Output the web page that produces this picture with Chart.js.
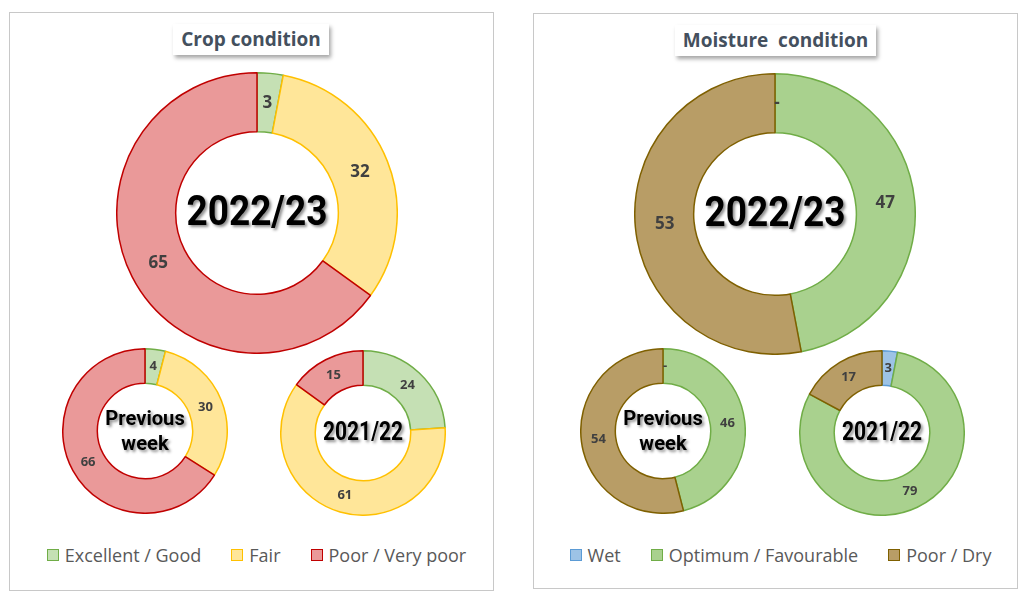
<!DOCTYPE html>
<html>
<head>
<meta charset="utf-8">
<script src="https://cdn.jsdelivr.net/npm/chart.js@4.4.1/dist/chart.umd.min.js"></script>
<style>
  body { margin: 0; background: #fff; width: 1024px; height: 599px; position: relative; overflow: hidden; font-family: "Open Sans", sans-serif; }
  .panel { position: absolute; border: 1px solid #c8c8c8; box-sizing: border-box; }
  .title { position: absolute; background: #fff; box-shadow: 2px 3px 4px rgba(0,0,0,0.35); font-weight: bold; font-size: 19px; color: #44505e; text-align: center; line-height: 31px; height: 31px; white-space: pre; }
  canvas { position: absolute; }
  .legend { position: absolute; display: flex; justify-content: center; gap: 30px; font-size: 18px; color: #595959; }
  .legend span.item { display: flex; align-items: center; }
  .legend i { display: inline-block; width: 10px; height: 10px; border: 1.5px solid; margin-right: 6px; }
</style>
</head>
<body>
<div class="panel" style="left:9px;top:12px;width:485px;height:579px"></div>
<div class="panel" style="left:533px;top:13px;width:485px;height:576px"></div>
<div class="title" style="left:173px;top:24px;width:156px">Crop condition</div>
<div class="title" style="left:675px;top:25px;width:201px">Moisture  condition</div>

<canvas id="c1" width="282" height="282" style="left:116px;top:72px"></canvas>
<canvas id="c2" width="166" height="166" style="left:62px;top:348px"></canvas>
<canvas id="c3" width="166" height="166" style="left:280px;top:350px"></canvas>
<canvas id="m1" width="282" height="282" style="left:634px;top:73px"></canvas>
<canvas id="m2" width="166" height="166" style="left:580px;top:348px"></canvas>
<canvas id="m3" width="166" height="166" style="left:799px;top:350px"></canvas>

<div class="legend" id="legCrop" style="left:19px;top:543px;width:475px"></div>
<div class="legend" id="legMoist" style="left:543px;top:543px;width:475px"></div>

<script>
// crop condition (%)
const cropLabels = ['Excellent / Good', 'Fair', 'Poor / Very poor'];
const crop2022 = [3, 32, 65];
const cropPrevWeek = [4, 30, 66];
const crop2021 = [24, 61, 15];

// moisture condition (%)
const moistLabels = ['Wet', 'Optimum / Favourable', 'Poor / Dry'];
const moist2022 = [0, 47, 53];
const moistPrevWeek = [0, 46, 54];
const moist2021 = [3, 79, 17];

const cropFill = ['#c5e0b4', '#ffe699', '#ea9999'];
const cropLine = ['#70ad47', '#ffc000', '#c00000'];
const moistFill = ['#9dc3e6', '#a9d18e', '#b89d66'];
const moistLine = ['#5b9bd5', '#70ad47', '#7f6000'];

// values written on the ring
const ringLabels = {
  id: 'ringLabels',
  afterDatasetsDraw(chart) {
    const ctx = chart.ctx;
    const meta = chart.getDatasetMeta(0);
    const vals = chart.data.datasets[0].data;
    const size = chart.width > 200 ? 17 : 13;
    ctx.save();
    ctx.font = 'bold ' + size + 'px "Open Sans"';
    ctx.fillStyle = '#404040';
    ctx.textAlign = 'center';
    ctx.textBaseline = 'middle';
    meta.data.forEach((arc, i) => {
      const p = arc.getCenterPoint();
      let txt = vals[i] === 0 ? '-' : String(vals[i]);
      ctx.fillText(txt, vals[i] === 0 ? p.x + 2 : p.x, p.y);
    });
    ctx.restore();
  }
};

// big text in the hole
function centerText(lines, size, sx, lh) {
  return {
    id: 'centerText',
    afterDraw(chart) {
      const ctx = chart.ctx;
      const a = chart.chartArea;
      const cx = (a.left + a.right) / 2, cy = (a.top + a.bottom) / 2;
      ctx.save();
      ctx.translate(cx, cy);
      ctx.scale(sx, 1);
      ctx.font = 'bold ' + size + 'px Roboto';
      ctx.fillStyle = '#000';
      ctx.textAlign = 'center';
      ctx.textBaseline = 'middle';
      ctx.shadowColor = 'rgba(0,0,0,0.45)';
      ctx.shadowOffsetX = 2;
      ctx.shadowOffsetY = 2;
      ctx.shadowBlur = 3;
      const y0 = -(lines.length - 1) * lh / 2;
      lines.forEach((l, i) => ctx.fillText(l, 0, y0 + i * lh + 1));
      ctx.restore();
    }
  };
}

function donut(id, labels, values, fill, line, text) {
  new Chart(document.getElementById(id), {
    type: 'doughnut',
    data: {
      labels: labels,
      datasets: [{ data: values, backgroundColor: fill, borderColor: line, borderWidth: 1.5 }]
    },
    options: {
      responsive: false,
      animation: false,
      cutout: '58%',
      plugins: { legend: { display: false }, tooltip: { enabled: false } }
    },
    plugins: [ringLabels, text]
  });
}

donut('c1', cropLabels, crop2022, cropFill, cropLine, centerText(['2022/23'], 43, 0.86, 0));
donut('c2', cropLabels, cropPrevWeek, cropFill, cropLine, centerText(['Previous', 'week'], 21, 0.96, 25));
donut('c3', cropLabels, crop2021, cropFill, cropLine, centerText(['2021/22'], 25, 0.84, 0));
donut('m1', moistLabels, moist2022, moistFill, moistLine, centerText(['2022/23'], 43, 0.86, 0));
donut('m2', moistLabels, moistPrevWeek, moistFill, moistLine, centerText(['Previous', 'week'], 21, 0.96, 25));
donut('m3', moistLabels, moist2021, moistFill, moistLine, centerText(['2021/22'], 25, 0.84, 0));

function legend(id, labels, fill, line) {
  const el = document.getElementById(id);
  labels.forEach((l, i) => {
    const s = document.createElement('span');
    s.className = 'item';
    s.innerHTML = '<i style="background:' + fill[i] + ';border-color:' + line[i] + '"></i>' + l;
    el.appendChild(s);
  });
}
legend('legCrop', cropLabels, cropFill, cropLine);
legend('legMoist', moistLabels, moistFill, moistLine);
</script>
</body>
</html>
